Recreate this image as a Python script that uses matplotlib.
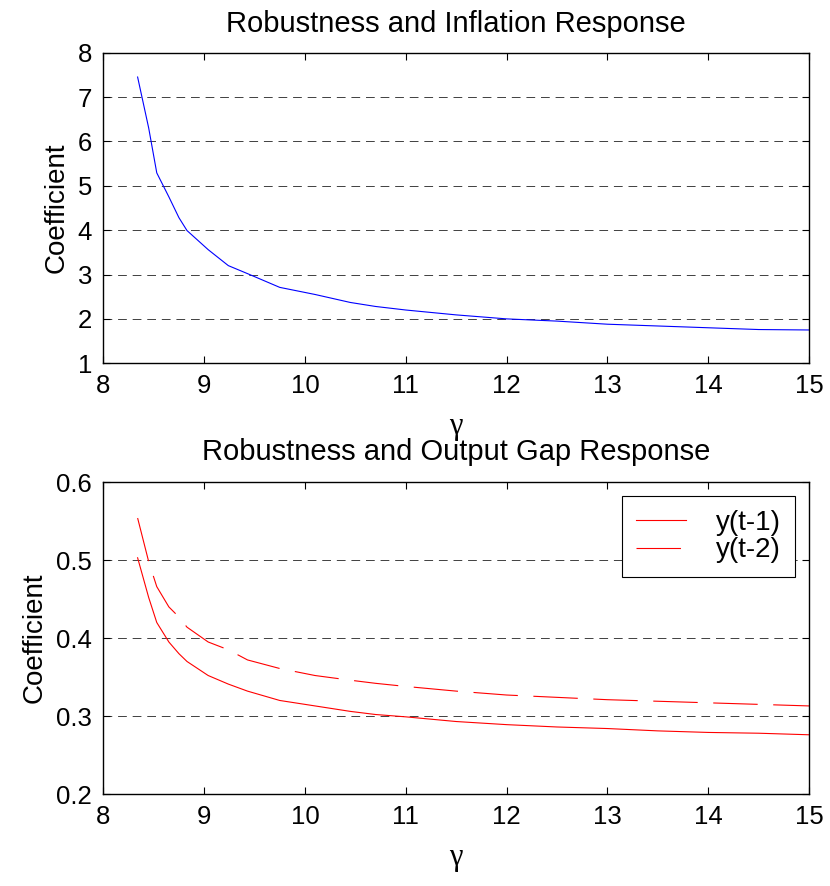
import matplotlib
matplotlib.use('Agg')
import matplotlib.pyplot as plt

plt.rcParams['font.family'] = ['Liberation Sans', 'DejaVu Sans']

# gamma grid and responses
gamma = [8.34, 8.45, 8.53, 8.65, 8.75, 8.83, 9.04, 9.24, 9.43, 9.75, 10.1,
         10.45, 10.7, 11.0, 11.5, 12.0, 12.5, 13.0, 13.5, 14.0, 14.5, 15.0]
inflation = [7.45, 6.3, 5.29, 4.75, 4.28, 3.99, 3.56, 3.2, 3.02, 2.71, 2.55,
             2.37, 2.28, 2.2, 2.09, 2.0, 1.95, 1.88, 1.84, 1.8, 1.76, 1.75]
y_lag1 = [0.503, 0.452, 0.42, 0.395, 0.38, 0.37, 0.352, 0.341, 0.332, 0.32, 0.313,
          0.306, 0.302, 0.299, 0.293, 0.289, 0.286, 0.284, 0.281, 0.279, 0.278, 0.276]
y_lag2 = [0.554, 0.498, 0.466, 0.44, 0.427, 0.414, 0.395, 0.385, 0.372, 0.361, 0.352,
          0.346, 0.342, 0.338, 0.332, 0.327, 0.324, 0.321, 0.319, 0.317, 0.315, 0.313]

fig = plt.figure(figsize=(8.3, 8.86), dpi=100)
ax1 = fig.add_axes([0.1245, 0.590, 0.8502, 0.3506])
ax2 = fig.add_axes([0.1245, 0.1038, 0.8502, 0.352])


def style(ax):
    ax.set_xlim(8, 15)
    ax.tick_params(direction='in', top=True, right=True, length=5, width=0.8,
                   labelsize=18.5, pad=8)
    for s in ax.spines.values():
        s.set_linewidth(1.0)
    ax.yaxis.grid(True, color='0.25', lw=0.7, ls=(0, (9, 6)))
    ax.set_axisbelow(True)
    ax.set_xlabel('γ', family='Liberation Serif', fontsize=22, labelpad=10)
    ax.set_ylabel('Coefficient', fontsize=20, labelpad=6)


ax1.plot(gamma, inflation, color='blue', lw=0.8)
style(ax1)
ax1.set_ylim(1, 8)
ax1.set_yticks(range(1, 9))
ax1.set_title('Robustness and Inflation Response', fontsize=21, pad=15)

ax2.plot(gamma, y_lag1, color='red', lw=0.8, label='y(t-1)')
ax2.plot(gamma, y_lag2, color='red', lw=0.8, dashes=(40, 14), label='y(t-2)')
style(ax2)
ax2.set_ylim(0.2, 0.6)
ax2.set_yticks([0.2, 0.3, 0.4, 0.5, 0.6])
ax2.set_title('Robustness and Output Gap Response', fontsize=21, pad=16)
leg = ax2.legend(loc='upper right', fontsize=20, fancybox=False, framealpha=1,
                 edgecolor='black', handlelength=1.8, handletextpad=1.1,
                 borderaxespad=0.5, labelspacing=0.05, borderpad=0.5)
leg.get_frame().set_linewidth(0.8)

fig.savefig('out.png', dpi=100)
